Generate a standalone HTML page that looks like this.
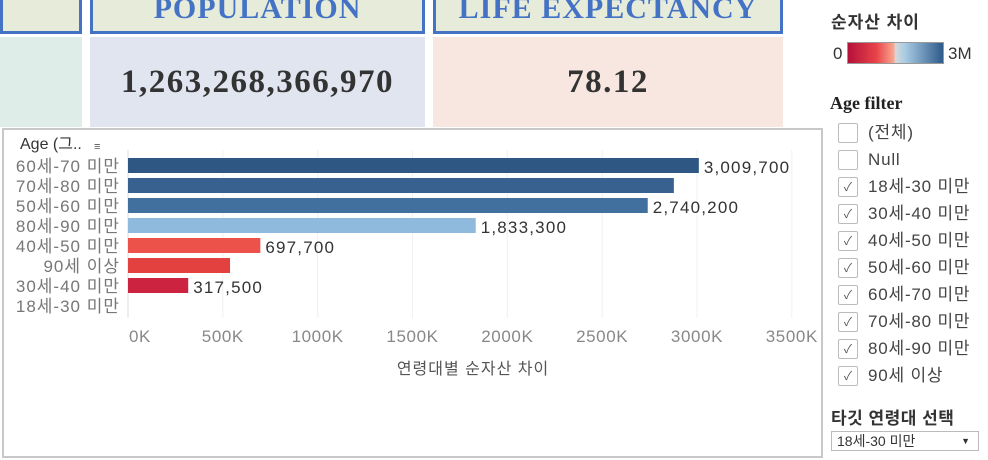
<!DOCTYPE html>
<html><head><meta charset="utf-8"><style>
body{margin:0;width:988px;height:460px;background:#fff;overflow:hidden;position:relative;font-family:"Liberation Sans","Noto Sans CJK KR",sans-serif}
.abs{position:absolute}
.hdr{border:3px solid #4472c4;border-top:none;background:#e6ecd9;color:#4472c4;font-family:"Liberation Serif","Noto Serif CJK SC",serif;font-weight:bold;font-size:30px;text-align:center;line-height:18px;box-sizing:border-box;letter-spacing:1px;overflow:hidden}
.kpi{font-family:"Liberation Serif",serif;font-weight:bold;font-size:33px;color:#333;text-align:center;line-height:90px;letter-spacing:1.5px}
.cb{position:absolute;left:838px;width:20px;height:20px;border:1px solid #bbb;box-sizing:border-box;border-radius:2px;font-size:12px;line-height:18px;text-align:center;color:#555}
.cl{position:absolute;left:868px;font-size:17px;color:#444;letter-spacing:0.8px;line-height:20px}
</style></head><body>
<div class="abs hdr" style="left:0;top:0;width:82px;height:34px"></div>
<div class="abs hdr" style="left:90px;top:0;width:335px;height:34px">POPULATION</div>
<div class="abs hdr" style="left:433px;top:0;width:350px;height:34px">LIFE EXPECTANCY</div>
<div class="abs" style="left:0;top:37px;width:82px;height:90px;background:#dfede8"></div>
<div class="abs kpi" style="left:90px;top:37px;width:335px;height:90px;background:#e1e5f0">1,263,268,366,970</div>
<div class="abs kpi" style="left:433px;top:37px;width:350px;height:90px;background:#f8e7e0">78.12</div>

<div class="abs" style="left:831px;top:8px;font-size:17px;font-weight:bold;color:#333;letter-spacing:1px">순자산 차이</div>
<div class="abs" style="left:833px;top:44px;font-size:17px;color:#333">0</div>
<div class="abs" style="left:847px;top:42px;width:97px;height:22px;border:1px solid #999;box-sizing:border-box;background:linear-gradient(90deg,#b5103a,#e8444a 30%,#f9a58e 48%,#d8d8d8 50%,#a9cbe4 60%,#2e5a8a)"></div>
<div class="abs" style="left:948px;top:44px;font-size:17px;color:#333">3M</div>
<div class="abs" style="left:830px;top:93px;font-family:'Liberation Serif',serif;font-weight:bold;font-size:18px;color:#222">Age filter</div>
<div id="filters"></div>
<div class="abs" style="left:831px;top:404px;font-size:17px;font-weight:bold;color:#333;letter-spacing:0.5px">타깃 연령대 선택</div>
<div class="abs" style="left:831px;top:431px;width:148px;height:20px;border:1px solid #bbb;box-sizing:border-box;font-size:14px;line-height:18px;padding-left:5px;color:#333">18세-30 미만<span style="position:absolute;right:8px;font-size:9px">▼</span></div>

<div class="abs" style="left:2px;top:128px;width:821px;height:330px;border:2px solid #c8c8c8;box-sizing:border-box"></div>
<svg class="abs" style="left:0;top:0" width="830" height="460" id="chart"></svg>
<script>
const categories=["60세-70 미만","70세-80 미만","50세-60 미만","80세-90 미만","40세-50 미만","90세 이상","30세-40 미만","18세-30 미만"];
const values=[3009700,2878000,2740200,1833300,697700,538000,317500,0];
const showLabel=[true,false,true,true,true,false,true,false];
const colors=["#2e5784","#38618f","#416f9e","#8fbadd","#ec514a","#e2413f","#cc2340","#ccc"];
const ticks=[0,500000,1000000,1500000,2000000,2500000,3000000,3500000];
const tickLabels=["0K","500K","1000K","1500K","2000K","2500K","3000K","3500K"];
const svg=document.getElementById('chart');const NS="http://www.w3.org/2000/svg";
const x=v=>128+v*569/3000000;const y=i=>158+i*20;
function mk(t,a,txt){const e=document.createElementNS(NS,t);for(const k in a)e.setAttribute(k,a[k]);if(txt!=null)e.textContent=txt;svg.appendChild(e);return e;}
ticks.forEach((t,i)=>{
const g=mk('line',{x1:x(t),x2:x(t),y1:150,y2:318,stroke:i==0?'#ddd':'#f0f0f0'});


const tl=mk('text',{x:i==0?x(t)+12:x(t),y:342,'text-anchor':'middle','font-size':17,fill:'#888','letter-spacing':0.6},tickLabels[i]);


});
const axt=mk('text',{x:473,y:374,'text-anchor':'middle','font-size':16,fill:'#555','letter-spacing':1},'연령대별 순자산 차이');


const yt=mk('text',{x:20,y:149,'font-size':16,fill:'#333'},'Age (그..');


const si=mk('text',{x:94,y:150,'font-size':11,fill:'#555'},'≡');


categories.forEach((c,i)=>{
const l=mk('text',{x:120,y:y(i)+14,'text-anchor':'end','font-size':17,fill:'#777','letter-spacing':1},c);


if(values[i]>0){
const r=mk('rect',{x:x(0),y:y(i),width:x(values[i])-x(0),height:15,fill:colors[i]});

}
if(showLabel[i]){
const v=mk('text',{x:x(values[i])+5,y:y(i)+15,'font-size':17,fill:'#333','letter-spacing':1.2},values[i].toLocaleString('en-US'));

}
});
const fl=["(전체)","Null","18세-30 미만","30세-40 미만","40세-50 미만","50세-60 미만","60세-70 미만","70세-80 미만","80세-90 미만","90세 이상"];
const fc=document.getElementById('filters');
fl.forEach((f,i)=>{const t=123+i*27;
const b=document.createElement('div');b.className='cb';b.style.top=t+'px';b.textContent=i>=2?'✓':'';


fc.appendChild(b);
const l=document.createElement('div');l.className='cl';l.style.top=t+'px';l.textContent=f;


fc.appendChild(l);});
</script>
</body></html>
